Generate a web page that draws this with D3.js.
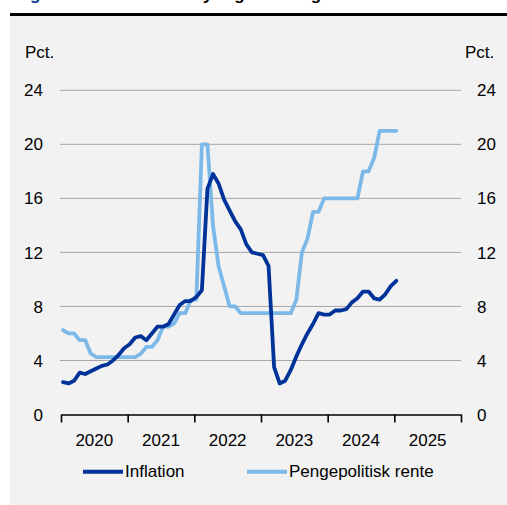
<!DOCTYPE html>
<html>
<head>
<meta charset="utf-8">
<script src="https://cdn.jsdelivr.net/npm/d3@7/dist/d3.min.js"></script>
<style>
    body { margin: 0; background: #fff; }
    svg { display: block; font-family: "Liberation Sans", Arial, sans-serif; }
</style>
</head>
<body>
<script>
// year labels on the x axis
var years = ["2020", "2021", "2022", "2023", "2024", "2025"];
var yTicks = [0, 4, 8, 12, 16, 20, 24];

// monthly values, jan 2020 - jan 2025
var inflation = [
    2.4, 2.3, 2.5, 3.1, 3.0, 3.2, 3.4, 3.6, 3.7, 4.0, 4.4, 4.9,
    5.2, 5.7, 5.8, 5.5, 6.0, 6.5, 6.5, 6.7, 7.4, 8.1, 8.4, 8.4,
    8.7, 9.2, 16.7, 17.8, 17.1, 15.9, 15.1, 14.3, 13.7, 12.6, 12.0, 11.9,
    11.8, 11.0, 3.5, 2.3, 2.5, 3.3, 4.3, 5.2, 6.0, 6.7, 7.5, 7.4,
    7.4, 7.7, 7.7, 7.8, 8.3, 8.6, 9.1, 9.1, 8.6, 8.5, 8.9, 9.5,
    9.9
];
var rente = [
    6.25, 6.0, 6.0, 5.5, 5.5, 4.5, 4.25, 4.25, 4.25, 4.25, 4.25, 4.25,
    4.25, 4.25, 4.5, 5.0, 5.0, 5.5, 6.5, 6.5, 6.75, 7.5, 7.5, 8.5,
    8.5, 20, 20, 14, 11, 9.5, 8, 8, 7.5, 7.5, 7.5, 7.5,
    7.5, 7.5, 7.5, 7.5, 7.5, 7.5, 8.5, 12, 13, 15, 15, 16,
    16, 16, 16, 16, 16, 16, 18, 18, 19, 21, 21, 21,
    21
];

var seriesNames = ["Inflation", "Pengepolitisk rente"];
var colors = ["#00339a", "#7db9e8"];

var w = 507;
var h = 505;
var svg = d3.select("body").append("svg").attr("width", w).attr("height", h);

// background panel and top rule
svg.append("rect").attr("x", 10).attr("y", 16).attr("width", w - 10).attr("height", h - 16).attr("fill", "#f2f2f2");
svg.append("rect").attr("x", 10).attr("y", 13).attr("width", w - 10).attr("height", 3).attr("fill", "#000");

// title, mostly cut off at the top of the picture
var title = svg.append("text").attr("y", 0).style("font-weight", "bold").style("font-size", "17px");
title.append("tspan").attr("x", 15).attr("fill", "#00339a").text("Figur 3");
title.append("tspan").attr("x", 118).attr("fill", "#000").text("Russisk styringsrente og inflation");

// scales: months since jan 2020
var x = d3.scaleLinear().domain([0, 72]).range([61, 461]);
var y = d3.scaleLinear().domain([0, 24]).range([414.5, 90.3]);
var off = 0.36; // points sit a little into each month

// gridlines
svg.selectAll("line.grid")
    .data(yTicks.filter(function(d) { return d > 0; }))
    .enter()
    .append("line")
    .attr("class", "grid")
    .attr("x1", 60)
    .attr("x2", 461)
    .attr("y1", function(d) { return y(d); })
    .attr("y2", function(d) { return y(d); })
    .style("stroke", "#a6a6a6")
    .style("stroke-width", 1);

// left and right tick labels
svg.selectAll("text.yl")
    .data(yTicks)
    .enter()
    .append("text")
    .attr("class", "yl")
    .attr("x", 43)
    .attr("y", function(d) { return y(d); })
    .attr("dy", "0.36em")
    .attr("text-anchor", "end")
    .style("font-size", "17px")
    .text(function(d) { return d; });

svg.selectAll("text.yr")
    .data(yTicks)
    .enter()
    .append("text")
    .attr("class", "yr")
    .attr("x", 477)
    .attr("y", function(d) { return y(d); })
    .attr("dy", "0.36em")
    .style("font-size", "17px")
    .text(function(d) { return d; });

svg.append("text").attr("x", 25).attr("y", 57.5).style("font-size", "17px").text("Pct.");
svg.append("text").attr("x", 465).attr("y", 57.5).style("font-size", "17px").text("Pct.");

// x axis
var xAxis = d3.axisBottom(x)
    .tickValues(d3.range(0, 73, 12))
    .tickSize(8)
    .tickSizeOuter(0)
    .tickFormat("");
var gx = svg.append("g").attr("transform", "translate(0," + y(0) + ")").call(xAxis);
gx.select(".domain").attr("stroke", "#000").attr("stroke-width", 1.6);
gx.selectAll(".tick line").attr("stroke", "#000").attr("stroke-width", 1.6);

svg.selectAll("text.year")
    .data(years)
    .enter()
    .append("text")
    .attr("class", "year")
    .attr("x", function(d, i) { return x(i * 12 + 6); })
    .attr("y", 446)
    .attr("text-anchor", "middle")
    .style("font-size", "17px")
    .text(function(d) { return d; });

// lines
var line = d3.line()
    .x(function(d, i) { return x(i + off); })
    .y(function(d) { return y(d); });

[rente, inflation].forEach(function(s, k) {
    svg.append("path")
        .datum(s)
        .attr("d", line)
        .attr("fill", "none")
        .attr("stroke", k == 0 ? colors[1] : colors[0])
        .attr("stroke-width", 3.8)
        .attr("stroke-linejoin", "round")
        .attr("stroke-linecap", "round");
});

// legend
var legX = [83, 247];
for (var i = 0; i < seriesNames.length; i++) {
    svg.append("line")
        .attr("x1", legX[i]).attr("x2", legX[i] + 40)
        .attr("y1", 471.7).attr("y2", 471.7)
        .style("stroke", colors[i])
        .style("stroke-width", 4);
    svg.append("text")
        .attr("x", legX[i] + 42)
        .attr("y", 477)
        .style("font-size", "17px")
        .text(seriesNames[i]);
}
</script>
</body>
</html>
